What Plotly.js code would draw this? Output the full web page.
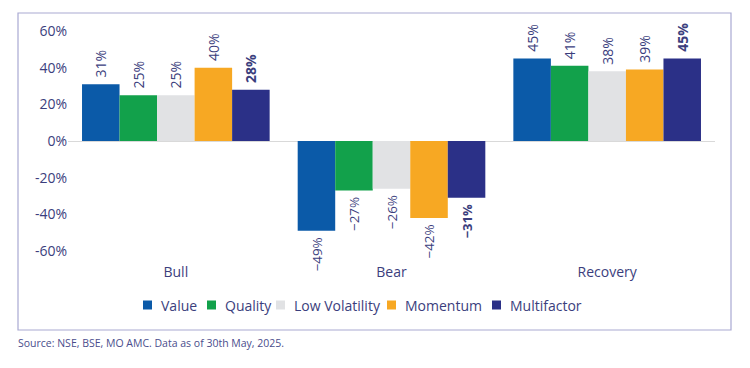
<!DOCTYPE html>
<html>
<head>
<meta charset="utf-8">
<script src="https://cdn.plot.ly/plotly-3.0.1.min.js"></script>
<style>
html,body{margin:0;padding:0;background:#fff;}
#chart{width:750px;height:368px;}
</style>
</head>
<body>
<div id="chart"></div>
<script>
const categories = ["Bull", "Bear", "Recovery"];
const seriesNames = ["Value", "Quality", "Low Volatility", "Momentum", "Multifactor"];
const valueData = [31, -49, 45];
const qualityData = [25, -27, 41];
const lowVolData = [25, -26, 38];
const momentumData = [40, -42, 39];
const multifactorData = [28, -31, 45];
const yTickVals = [-60, -40, -20, 0, 20, 40, 60];
const yTickText = ["-60%", "-40%", "-20%", "0%", "20%", "40%", "60%"];
const sourceText = "Source: NSE, BSE, MO AMC. Data as of 30th May, 2025.";

const seriesValues = [valueData, qualityData, lowVolData, momentumData, multifactorData];
const colors = ["#0b5aa8", "#12a14b", "#e1e2e4", "#f7a823", "#2b3087"];
const textColor = "#3b3e7d";
const fontFam = "Open Sans, Noto Sans, sans-serif";
const NB = "\u00a0";

function fmt(v, bold) {
  const s = (v < 0 ? "\u2212" : "") + Math.abs(v) + "%";
  const t = bold ? "<b>" + s + "</b>" : s;
  return v < 0 ? t + NB : NB + t;
}

const traces = seriesNames.map((name, i) => {
  const bold = name === "Multifactor";
  return {
    type: "bar",
    name: name,
    x: categories,
    y: seriesValues[i],
    marker: {color: colors[i], line: {width: 0}},
    text: seriesValues[i].map(v => fmt(v, bold)),
    textposition: "outside",
    textangle: -90,
    textfont: {family: fontFam, size: 14, color: textColor},
    cliponaxis: false,
    hoverinfo: "skip",
    showlegend: false
  };
});

const W = 647, H = 242, L = 68, T = 20;
function px(x){ return (x - L) / W; }
function py(y){ return (T + H - y) / H; }

// custom legend (layout only)
const legendX = [143, 207, 276, 387, 492];
const legendY = 305;
const sq = 9;
const legendShapes = seriesNames.map((n, i) => ({
  type: "rect", xref: "paper", yref: "paper",
  x0: px(legendX[i]), x1: px(legendX[i] + sq),
  y0: py(legendY + sq / 2), y1: py(legendY - sq / 2),
  line: {width: 0}, fillcolor: colors[i]
}));
const legendAnn = seriesNames.map((n, i) => ({
  text: n, xref: "paper", yref: "paper",
  x: px(legendX[i] + 16), y: py(legendY),
  xanchor: "left", yanchor: "middle", showarrow: false,
  font: {family: fontFam, size: 14, color: textColor}
}));

const layout = {
  width: 750,
  height: 368,
  margin: {l: L, r: 750 - L - W, t: T, b: 368 - T - H, pad: 0},
  paper_bgcolor: "#ffffff",
  plot_bgcolor: "#ffffff",
  barmode: "group",
  bargap: 0.13,
  bargroupgap: 0,
  font: {family: fontFam, color: textColor, size: 14},
  xaxis: {
    type: "category",
    showgrid: false,
    showline: false,
    ticks: "",
    tickfont: {family: fontFam, size: 14, color: textColor},
    zeroline: false
  },
  yaxis: {
    range: [-66, 66],
    tickvals: yTickVals,
    ticktext: yTickText,
    showgrid: false,
    showline: false,
    ticks: "",
    zeroline: true,
    zerolinecolor: "#d9d9d9",
    zerolinewidth: 1,
    tickfont: {family: fontFam, size: 14, color: textColor}
  },
  showlegend: false,
  shapes: [{
    type: "rect",
    xref: "paper", yref: "paper",
    x0: px(18), x1: px(731), y0: py(330), y1: py(13),
    line: {color: "#a9a9d2", width: 1.2},
    fillcolor: "rgba(0,0,0,0)",
    layer: "below"
  }].concat(legendShapes),
  annotations: [{
    text: sourceText,
    xref: "paper", yref: "paper",
    x: px(16), y: py(343),
    xanchor: "left", yanchor: "middle",
    showarrow: false,
    font: {family: fontFam, size: 10.5, color: "#4a4d8c"}
  }].concat(legendAnn)
};

Plotly.newPlot("chart", traces, layout, {displayModeBar: false, staticPlot: true});
</script>
</body>
</html>
